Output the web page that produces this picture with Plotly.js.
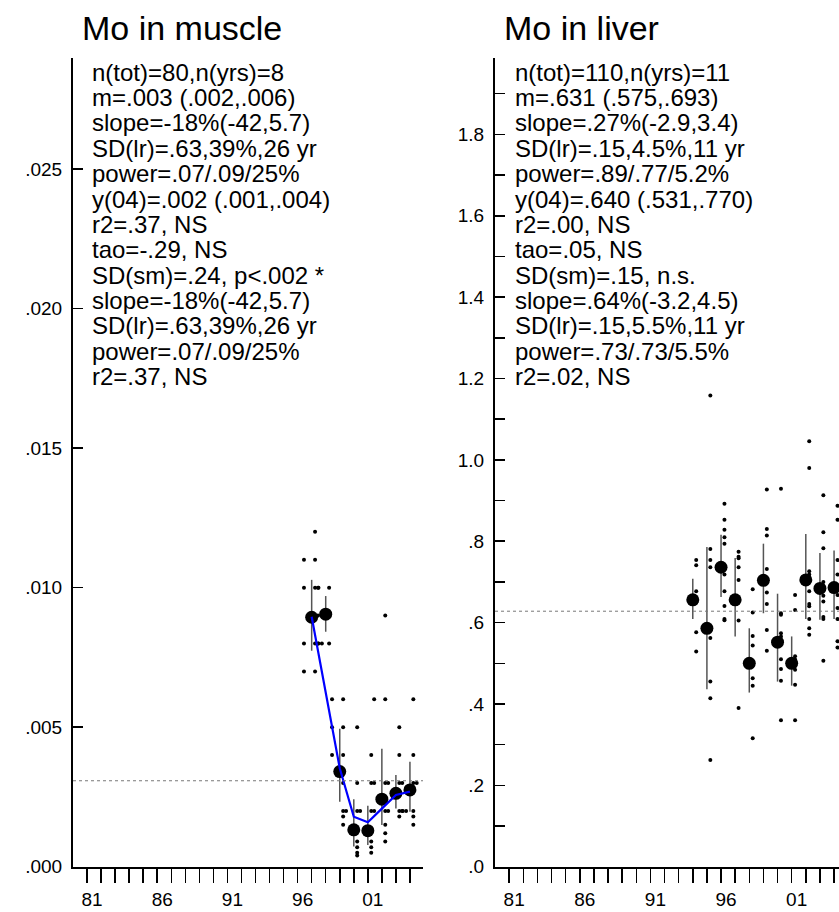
<!DOCTYPE html>
<html><head><meta charset="utf-8">
<script src="https://cdn.plot.ly/plotly-3.0.1.min.js"></script>
<style>html,body{margin:0;padding:0;background:#fff}#c{width:839px;height:912px}</style>
</head><body><div id="c"></div>
<script>
// ---------- data ----------
const muscleYears  = [1997,1998,1999,2000,2001,2002,2003,2004];
const muscleMean   = [0.00894,0.00905,0.00341,0.00132,0.00129,0.00242,0.00263,0.00275];
const muscleLo     = [0.00774,0.00842,0.00233,0.00072,0.00078,0.00149,0.00209,0.00197];
const muscleHi     = [0.01028,0.00970,0.00494,0.00242,0.00218,0.00423,0.00329,0.00376];
const muscleSmooth = [0.00896,0.00630,0.00353,0.00179,0.00159,0.00208,0.00257,0.00269];
const muscleGrand  = 0.00308;
const muscleValues = [
  [0.012,0.011,0.011,0.010,0.010,0.010,0.008,0.008,0.008,0.008,0.007,0.007],
  [0.010,0.010,0.009,0.009,0.008,0.008],
  [0.006,0.006,0.005,0.005,0.004,0.004,0.003,0.002,0.0018,0.0015],
  [0.005,0.003,0.002,0.002,0.0013,0.0009,0.0007,0.0005,0.0004],
  [0.004,0.003,0.002,0.002,0.0013,0.0009,0.0007,0.0005],
  [0.009,0.006,0.006,0.003,0.003,0.002,0.002,0.0015,0.0012,0.0009],
  [0.005,0.004,0.003,0.003,0.002,0.002,0.002,0.002,0.0018],
  [0.006,0.004,0.003,0.003,0.003,0.002,0.002,0.0018,0.0015]
];
const muscleStats = ["n(tot)=80,n(yrs)=8","m=.003 (.002,.006)","slope=-18%(-42,5.7)","SD(lr)=.63,39%,26 yr",
  "power=.07/.09/25%","y(04)=.002 (.001,.004)","r2=.37, NS","tao=-.29, NS","SD(sm)=.24, p<.002 *",
  "slope=-18%(-42,5.7)","SD(lr)=.63,39%,26 yr","power=.07/.09/25%","r2=.37, NS"];

const liverYears = [1994,1995,1996,1997,1998,1999,2000,2001,2002,2003,2004];
const liverMean  = [0.656,0.586,0.736,0.656,0.500,0.704,0.552,0.500,0.705,0.684,0.686];
const liverLo    = [0.609,0.436,0.663,0.566,0.428,0.623,0.455,0.445,0.609,0.607,0.609];
const liverHi    = [0.708,0.786,0.816,0.759,0.586,0.794,0.671,0.566,0.818,0.771,0.777];
const liverGrand = 0.628;
const liverValues = [
  [0.754,0.741,0.677,0.660,0.650,0.576,0.529],
  [1.158,0.781,0.754,0.736,0.586,0.562,0.455,0.414,0.262],
  [0.892,0.853,0.828,0.810,0.794,0.736,0.718,0.677,0.641,0.609,0.606],
  [0.774,0.762,0.758,0.736,0.705,0.656,0.605,0.390],
  [0.682,0.625,0.567,0.544,0.505,0.495,0.463,0.445,0.316],
  [0.927,0.830,0.814,0.732,0.704,0.674,0.646,0.582,0.531],
  [0.929,0.623,0.619,0.574,0.566,0.552,0.510,0.486,0.457,0.360],
  [0.668,0.631,0.517,0.509,0.500,0.495,0.484,0.447,0.360],
  [1.046,0.980,0.726,0.718,0.705,0.677,0.646,0.640,0.609,0.586,0.570],
  [0.913,0.822,0.783,0.700,0.684,0.666,0.652,0.614,0.609,0.506],
  [0.887,0.853,0.754,0.718,0.686,0.668,0.636,0.609,0.554,0.539]
];
const liverStats = ["n(tot)=110,n(yrs)=11","m=.631 (.575,.693)","slope=.27%(-2.9,3.4)","SD(lr)=.15,4.5%,11 yr",
  "power=.89/.77/5.2%","y(04)=.640 (.531,.770)","r2=.00, NS","tao=.05, NS","SD(sm)=.15, n.s.",
  "slope=.64%(-3.2,4.5)","SD(lr)=.15,5.5%,11 yr","power=.73/.73/5.5%","r2=.02, NS"];

const yearTicks  = [1981,1982,1983,1984,1985,1986,1987,1988,1989,1990,1991,1992,1993,1994,1995,1996,1997,1998,1999,2000,2001,2002,2003,2004];
const yearLabels = ["81","","","","","86","","","","","91","","","","","96","","","","","01","","",""];
const muscleTickVals = [0,0.005,0.010,0.015,0.020,0.025];
const muscleTickText = [".000",".005",".010",".015",".020",".025"];
const liverTickVals  = [0,0.2,0.4,0.6,0.8,1.0,1.2,1.4,1.6,1.8];
const liverTickText  = [".0",".2",".4",".6",".8","1.0","1.2","1.4","1.6","1.8"];

// ---------- helpers ----------
const W = 839, H = 912;
const PX_PER_YEAR = 14.04;
const TIE_OFFSETS_PX = [3.4, -7.7, 6.8, 10.2, 13.6, 17.0];
function spreadDots(years, groups, tol){
  const xs = [], ys = [];
  years.forEach((yr, i) => {
    const seen = [];
    groups[i].forEach(v => {
      let k = 0;
      seen.forEach(s => { if (Math.abs(s - v) <= tol) k++; });
      seen.push(v);
      const off = TIE_OFFSETS_PX[Math.min(k, TIE_OFFSETS_PX.length-1)];
      xs.push(yr + off / PX_PER_YEAR);
      ys.push(v);
    });
  });
  return {xs, ys};
}
const md = spreadDots(muscleYears, muscleValues, 1e-7);
const ld = spreadDots(liverYears, liverValues, -1);

const FONT = 'Liberation Sans, Arial, sans-serif';
const traces = [
  {x: md.xs, y: md.ys, xaxis:'x', yaxis:'y', mode:'markers', type:'scatter',
   marker:{size:4, color:'#000'}},
  {x: muscleYears, y: muscleMean, xaxis:'x', yaxis:'y', mode:'markers', type:'scatter',
   marker:{size:13, color:'#000'},
   error_y:{type:'data', symmetric:false,
     array: muscleHi.map((h,i)=>h-muscleMean[i]),
     arrayminus: muscleMean.map((m,i)=>m-muscleLo[i]),
     width:0, thickness:1.5, color:'#555'}},
  {x: muscleYears, y: muscleSmooth, xaxis:'x', yaxis:'y', mode:'lines', type:'scatter',
   line:{color:'#0000ff', width:2.2}},
  {x: ld.xs, y: ld.ys, xaxis:'x2', yaxis:'y2', mode:'markers', type:'scatter',
   marker:{size:4, color:'#000'}},
  {x: liverYears, y: liverMean, xaxis:'x2', yaxis:'y2', mode:'markers', type:'scatter',
   marker:{size:13, color:'#000'},
   error_y:{type:'data', symmetric:false,
     array: liverHi.map((h,i)=>h-liverMean[i]),
     arrayminus: liverMean.map((m,i)=>m-liverLo[i]),
     width:0, thickness:1.5, color:'#555'}}
];

const yDom = [(H-866.7)/H, (H-57.5)/H];
const xCommon = {tickvals: yearTicks, ticktext: yearLabels, ticks:'outside', ticklen:14, tickwidth:1.5,
  tickcolor:'#000', showline:true, linewidth:2, linecolor:'#000', showgrid:false, zeroline:false,
  ticklabelshift:5, tickfont:{family:FONT, size:19, color:'#000'}};
const yCommon = {ticks:'inside', ticklen:10, tickwidth:1.5, tickcolor:'#000', showline:true, linewidth:2,
  linecolor:'#000', showgrid:false, zeroline:false, ticklabelstandoff:5,
  tickfont:{family:FONT, size:19, color:'#000'}, domain: yDom};

const annotations = [];
function addText(lines, px, py0, dy){
  lines.forEach((t, k) => annotations.push({text:t, xref:'paper', yref:'paper',
    x: px/W, y: 1-(py0 + k*dy)/H, xanchor:'left', yanchor:'middle', showarrow:false,
    font:{family:FONT, size:24, color:'#000'}}));
}
addText(muscleStats, 90, 72, 25.4);
addText(liverStats, 513, 72, 25.4);
annotations.push({text:'Mo in muscle', xref:'paper', yref:'paper', x:80/W, y:1-28/H, xanchor:'left',
  yanchor:'middle', showarrow:false, font:{family:FONT, size:34, color:'#000'}});
annotations.push({text:'Mo in liver', xref:'paper', yref:'paper', x:502/W, y:1-28/H, xanchor:'left',
  yanchor:'middle', showarrow:false, font:{family:FONT, size:34, color:'#000'}});

const layout = {
  width: W, height: H, margin:{l:0, r:0, t:0, b:0}, showlegend:false,
  paper_bgcolor:'#fff', plot_bgcolor:'rgba(0,0,0,0)',
  xaxis: Object.assign({}, xCommon, {domain:[73/W, 423/W], range:[1980, 2004.93], anchor:'y'}),
  xaxis2: Object.assign({}, xCommon, {domain:[495/W, 1], range:[1980, 2004.35], anchor:'y2'}),
  yaxis: Object.assign({}, yCommon, {range:[0, 0.029], tickvals: muscleTickVals, ticktext: muscleTickText, anchor:'x'}),
  yaxis2: Object.assign({}, yCommon, {range:[0, 1.989], tickvals: liverTickVals, ticktext: liverTickText, anchor:'x2',
    minor:{dtick:0.1, tick0:0, ticks:'inside', ticklen:10, tickwidth:1.5, tickcolor:'#000'}}),
  shapes: [
    {type:'line', xref:'x domain', yref:'y', x0:0, x1:1, y0:muscleGrand, y1:muscleGrand,
     line:{color:'#777', width:1, dash:'dot'}},
    {type:'line', xref:'x2 domain', yref:'y2', x0:0, x1:1, y0:liverGrand, y1:liverGrand,
     line:{color:'#777', width:1, dash:'dot'}}
  ],
  annotations: annotations
};
Plotly.newPlot('c', traces, layout, {staticPlot:true, displayModeBar:false});
</script></body></html>
